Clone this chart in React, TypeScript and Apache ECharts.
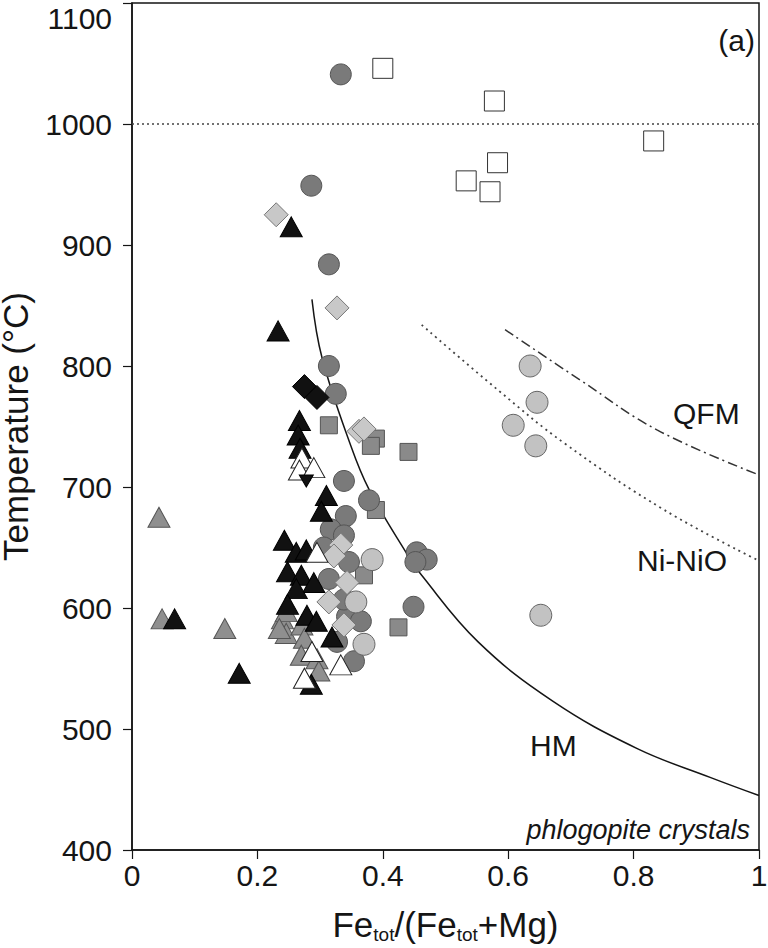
import React, { useEffect, useRef } from 'react';
import * as echarts from 'echarts';

const FONT = "'Liberation Sans', Arial, Helvetica, sans-serif";

const xTickLabels = ['0', '0.2', '0.4', '0.6', '0.8', '1'];
const yTickLabels = ['400', '500', '600', '700', '800', '900', '1000', '1100'];

// [Fe_tot/(Fe_tot+Mg), Temperature °C]
const openSquares = [
  [0.4, 1046], [0.578, 1019], [0.832, 986], [0.583, 968], [0.533, 953], [0.571, 944],
];
const graySquares = [
  [0.314, 751], [0.389, 740], [0.381, 734], [0.441, 729], [0.389, 681], [0.37, 627], [0.425, 584],
];
const darkCircles = [
  [0.333, 1041], [0.286, 949], [0.314, 884], [0.314, 800], [0.325, 777], [0.338, 705],
  [0.378, 689], [0.341, 676], [0.317, 665], [0.338, 660], [0.306, 650], [0.346, 638],
  [0.314, 624], [0.343, 593], [0.338, 607], [0.365, 589], [0.327, 572], [0.354, 556],
  [0.449, 601], [0.454, 646], [0.47, 640], [0.452, 638],
];
const lightCircles = [
  [0.635, 800], [0.646, 770], [0.608, 751], [0.644, 734], [0.652, 594],
  [0.383, 640], [0.357, 605], [0.37, 570],
];
const lightDiamonds = [
  [0.23, 925], [0.327, 848], [0.362, 746], [0.37, 748], [0.333, 652], [0.322, 643],
  [0.343, 621], [0.338, 586], [0.314, 605],
];
const blackDiamonds = [
  [0.275, 783], [0.295, 774],
];
const grayTriangles = [
  [0.043, 675], [0.048, 591], [0.148, 583], [0.24, 591], [0.246, 579], [0.271, 586],
  [0.275, 575], [0.27, 561], [0.295, 558], [0.298, 548], [0.246, 597], [0.235, 583],
];
const blackTriangles = [
  [0.254, 915], [0.233, 829], [0.267, 755], [0.265, 743], [0.268, 732], [0.31, 693],
  [0.302, 680], [0.243, 656], [0.262, 646], [0.278, 648], [0.248, 630], [0.27, 627],
  [0.29, 621], [0.262, 616], [0.248, 603], [0.279, 594], [0.294, 589], [0.319, 576],
  [0.286, 537], [0.068, 591], [0.171, 546],
];
const openTriangles = [
  [0.271, 724], [0.267, 714], [0.29, 716], [0.295, 646], [0.333, 553], [0.275, 542], [0.287, 564],
];
const invertedTriangles = [
  [0.278, 705],
];

const hmCurve = [
  [0.287, 855], [0.303, 807], [0.349, 734], [0.378, 698], [0.437, 646], [0.462, 627],
  [0.552, 572], [0.671, 523], [0.805, 484], [0.922, 460], [1.0, 445],
];
const niNioCurve = [
  [0.462, 834], [0.584, 780], [0.69, 736], [0.849, 681], [1.0, 639],
];
const qfmCurve = [
  [0.595, 830], [0.716, 788], [0.838, 747], [1.0, 710],
];
const limitLine = [
  [0, 1000], [1, 1000],
];

function scatter(data: number[][], symbol: string, size: any, color: string, border: string, extra: any = {}) {
  return {
    type: 'scatter',
    data,
    symbol,
    symbolSize: size,
    itemStyle: { color, borderColor: border, borderWidth: 1, opacity: 1 },
    emphasis: { disabled: true },
    ...extra,
  };
}

function line(data: number[][], lineStyle: any, smooth: number | boolean = 0.4) {
  return {
    type: 'line',
    data,
    smooth,
    showSymbol: false,
    symbol: 'none',
    lineStyle,
    emphasis: { disabled: true },
    z: 1,
  };
}

export default function App() {
  const ref = useRef<HTMLDivElement>(null);
  useEffect(() => {
    document.body.style.margin = '0';
    const chart = echarts.init(ref.current!, null, { renderer: 'svg' });
    const txt = (x: number, y: number, text: string, align: string, size: number, italic = false) => ({
      type: 'text',
      x,
      y,
      style: {
        text,
        textAlign: align,
        textVerticalAlign: 'middle',
        fontSize: size,
        fontFamily: FONT,
        fontStyle: italic ? 'italic' : 'normal',
        fill: '#151515',
      },
      z: 100,
    });
    chart.setOption({
      animation: false,
      backgroundColor: '#ffffff',
      grid: {
        left: 132,
        right: 9,
        top: 3,
        bottom: 98,
        show: true,
        borderColor: '#151515',
        borderWidth: 1.5,
        outerBoundsMode: 'none',
        containLabel: false,
      },
      xAxis: {
        type: 'value',
        min: 0,
        max: 1,
        interval: 0.2,
        axisLine: { show: true, onZero: false, lineStyle: { color: '#151515', width: 1.5 } },
        axisTick: { show: true, inside: false, length: 9, lineStyle: { color: '#151515', width: 1.2 } },
        splitLine: { show: false },
        axisLabel: {
          fontSize: 30,
          fontFamily: FONT,
          color: '#151515',
          margin: 10,
          formatter: (v: number) => xTickLabels[Math.round(v / 0.2)] ?? '',
        },
        name: '{b|Fe}{s|tot}{b|/(Fe}{s|tot}{b|+Mg)}',
        nameLocation: 'middle',
        nameGap: 54,
        nameTextStyle: {
          rich: {
            b: { fontSize: 35, fontFamily: FONT, color: '#151515', lineHeight: 40 },
            s: { fontSize: 19, fontFamily: FONT, color: '#151515', lineHeight: 16, verticalAlign: 'bottom' },
          },
        },
      },
      yAxis: {
        type: 'value',
        min: 400,
        max: 1100,
        interval: 100,
        axisLine: { show: true, onZero: false, lineStyle: { color: '#151515', width: 1.5 } },
        axisTick: { show: true, inside: false, length: 9, lineStyle: { color: '#151515', width: 1.2 } },
        splitLine: { show: false },
        axisLabel: {
          fontSize: 30,
          fontFamily: FONT,
          color: '#151515',
          margin: 20,
          verticalAlignMaxLabel: 'top',
          formatter: (v: number) => yTickLabels[Math.round((v - 400) / 100)] ?? '',
        },
        name: 'Temperature (°C)',
        nameLocation: 'middle',
        nameGap: 76,
        nameTextStyle: { fontSize: 35, fontFamily: FONT, color: '#151515', lineHeight: 38 },
      },
      series: [
        line(limitLine, { color: '#444', width: 1.6, type: [2, 3] }, false),
        line(hmCurve, { color: '#151515', width: 1.5 }),
        line(niNioCurve, { color: '#444', width: 1.8, type: [2, 4] }),
        line(qfmCurve, { color: '#333', width: 1.5, type: [10, 4, 2, 4] }),
        scatter(openSquares, 'rect', 20, '#ffffff', '#333333'),
        scatter(graySquares, 'rect', 17, '#8a8a8a', '#555555'),
        scatter(darkCircles, 'circle', 21, '#7a7a7a', '#555555'),
        scatter(lightCircles, 'circle', 22, '#c2c2c2', '#666666'),
        scatter(lightDiamonds, 'diamond', [24, 24], '#c8c8c8', '#777777'),
        scatter(blackDiamonds, 'diamond', [24, 24], '#111111', '#000000'),
        scatter(grayTriangles, 'triangle', [22, 20], '#8f8f8f', '#555555'),
        scatter(blackTriangles, 'triangle', [22, 20], '#111111', '#000000'),
        scatter(openTriangles, 'triangle', [22, 20], '#ffffff', '#222222'),
        scatter(invertedTriangles, 'triangle', [14, 12], '#111111', '#000000', { symbolRotate: 180 }),
      ],
      graphic: [
        txt(755, 40, '(a)', 'right', 30),
        txt(673, 413, 'QFM', 'left', 30),
        txt(637, 560, 'Ni-NiO', 'left', 30),
        txt(530, 745, 'HM', 'left', 30),
        txt(750, 830, 'phlogopite crystals', 'right', 27, true),
      ],
    });
    return () => chart.dispose();
  }, []);
  return <div ref={ref} style={{ width: 768, height: 948 }} />;
}
